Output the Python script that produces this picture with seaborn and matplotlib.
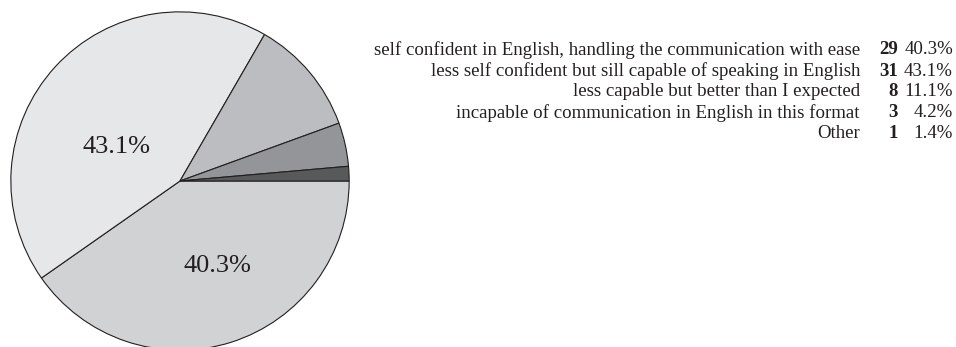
import matplotlib
matplotlib.use("Agg")
import matplotlib.pyplot as plt
import seaborn as sns

sns.set_theme(style="white")
plt.rcParams["font.family"] = ["Liberation Serif", "DejaVu Serif"]

categories = [
    "self confident in English, handling the communication with ease",
    "less self confident but sill capable of speaking in English",
    "less capable but better than I expected",
    "incapable of communication in English in this format",
    "Other",
]
counts = [29, 31, 8, 3, 1]
percents = [40.3, 43.1, 11.1, 4.2, 1.4]
colors = ["#d1d2d4", "#e6e7e8", "#bcbdc0", "#939598", "#58595b"]

W, H = 956, 347
fig = plt.figure(figsize=(W / 100, H / 100), dpi=100)

# Pie axes: centre (180, 181) px, radius 170 px
cx, cy, r = 180, 181, 170
ax = fig.add_axes([(cx - r) / W, (H - cy - r) / H, 2 * r / W, 2 * r / H])
ax.pie(
    counts,
    colors=colors,
    startangle=0,
    counterclock=False,
    radius=1.0,
    wedgeprops=dict(edgecolor="#231f20", linewidth=0.8),
)
ax.set_xlim(-1.005, 1.005)
ax.set_ylim(-1.005, 1.005)
ax.set_aspect("equal")
ax.axis("off")

# Percentage labels for the two largest slices
ax.text(-0.375, 0.2, f"{percents[1]}%", fontsize=19, color="#231f20",
        ha="center", va="center")
ax.text(0.22, -0.5, f"{percents[0]}%", fontsize=19, color="#231f20",
        ha="center", va="center")

# Legend table at the right
row_y = [50, 71, 92, 113, 134]
fs = 13.6
for name, n, p, y in zip(categories, counts, percents, row_y):
    fy = 1 - y / H
    fig.text(860 / W, fy, name, ha="right", va="center", fontsize=fs,
             color="#231f20")
    fig.text(898 / W, fy, str(n), ha="right", va="center", fontsize=fs,
             fontweight="bold", color="#231f20")
    fig.text(953 / W, fy, f"{p}%", ha="right", va="center", fontsize=fs,
             color="#231f20")

fig.savefig("out.png", dpi=100, facecolor="white")
